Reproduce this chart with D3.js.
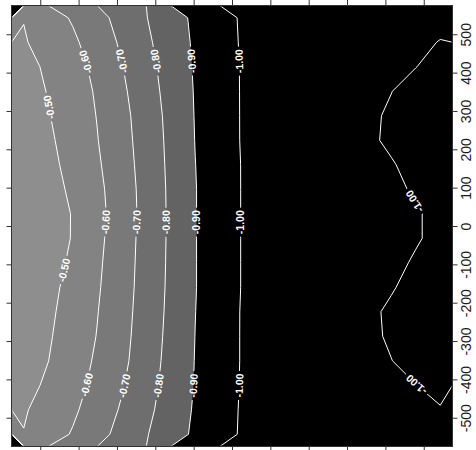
<!DOCTYPE html>
<html>
<head>
<meta charset="utf-8">
<script src="https://cdn.jsdelivr.net/npm/d3@7"></script>
<style>
  body { margin: 0; background: #ffffff; }
  svg { display: block; font-family: "Liberation Sans", Arial, sans-serif; }
</style>
</head>
<body>
<svg id="chart" width="476" height="450"></svg>
<script>
// Extent of the field in data units (horizontal u, vertical v)
const uDomain = [-575, 575];
const vDomain = [-575, 575];

// Tick positions
const uTicks = [-500, -400, -300, -200, -100, 0, 100, 200, 300, 400, 500];
const vTicks = [-500, -400, -300, -200, -100, 0, 100, 200, 300, 400, 500];

// Contour levels and the fill used for values at or above each level
const levels = [-1.0, -0.9, -0.8, -0.7, -0.6, -0.5];
const levelFill = ["#000000", "#636363", "#6e6e6e", "#797979", "#838383", "#8e8e8e"];

// Gridded field, 18 x 18 cell values, rows from top (v = +543) to bottom (v = -543)
const field = [
  [-0.503,-0.561,-0.609,-0.670,-0.732,-0.797,-0.860,-0.918,-0.966,-1.014,-1.040,-1.040,-1.040,-1.040,-1.040,-1.040,-1.040,-1.023],
  [-0.492,-0.538,-0.584,-0.645,-0.714,-0.783,-0.850,-0.913,-0.963,-1.012,-1.040,-1.040,-1.040,-1.040,-1.040,-1.036,-1.017,-0.997],
  [-0.467,-0.517,-0.566,-0.623,-0.696,-0.769,-0.841,-0.909,-0.960,-1.010,-1.040,-1.040,-1.040,-1.040,-1.040,-1.021,-1.001,-0.982],
  [-0.453,-0.505,-0.556,-0.610,-0.683,-0.758,-0.834,-0.906,-0.958,-1.010,-1.040,-1.040,-1.040,-1.040,-1.020,-1.001,-0.980,-0.961],
  [-0.441,-0.495,-0.549,-0.603,-0.672,-0.748,-0.827,-0.904,-0.957,-1.010,-1.040,-1.040,-1.040,-1.031,-1.012,-0.992,-0.972,-0.953],
  [-0.428,-0.484,-0.541,-0.597,-0.666,-0.743,-0.823,-0.902,-0.956,-1.010,-1.040,-1.040,-1.040,-1.030,-1.010,-0.991,-0.971,-0.952],
  [-0.416,-0.473,-0.531,-0.588,-0.659,-0.738,-0.820,-0.899,-0.954,-1.008,-1.040,-1.040,-1.040,-1.040,-1.024,-1.004,-0.984,-0.965],
  [-0.400,-0.459,-0.519,-0.578,-0.651,-0.734,-0.817,-0.897,-0.953,-1.008,-1.040,-1.040,-1.040,-1.040,-1.033,-1.013,-0.993,-0.974],
  [-0.375,-0.440,-0.506,-0.572,-0.648,-0.732,-0.816,-0.897,-0.953,-1.008,-1.040,-1.040,-1.040,-1.040,-1.040,-1.025,-1.005,-0.986],
  [-0.366,-0.436,-0.507,-0.577,-0.653,-0.734,-0.816,-0.897,-0.953,-1.008,-1.040,-1.040,-1.040,-1.040,-1.040,-1.025,-1.005,-0.986],
  [-0.390,-0.454,-0.519,-0.584,-0.657,-0.736,-0.817,-0.897,-0.953,-1.008,-1.040,-1.040,-1.040,-1.040,-1.033,-1.014,-0.994,-0.974],
  [-0.413,-0.472,-0.531,-0.590,-0.661,-0.738,-0.819,-0.897,-0.953,-1.008,-1.040,-1.040,-1.040,-1.040,-1.023,-1.004,-0.984,-0.965],
  [-0.425,-0.482,-0.539,-0.597,-0.666,-0.742,-0.822,-0.899,-0.955,-1.010,-1.040,-1.040,-1.040,-1.031,-1.011,-0.992,-0.972,-0.952],
  [-0.434,-0.490,-0.547,-0.603,-0.671,-0.747,-0.826,-0.901,-0.956,-1.010,-1.040,-1.040,-1.040,-1.032,-1.013,-0.993,-0.974,-0.954],
  [-0.445,-0.499,-0.556,-0.613,-0.678,-0.753,-0.831,-0.903,-0.956,-1.010,-1.040,-1.040,-1.040,-1.040,-1.020,-1.001,-0.980,-0.961],
  [-0.466,-0.517,-0.568,-0.625,-0.692,-0.764,-0.836,-0.905,-0.958,-1.011,-1.040,-1.040,-1.040,-1.040,-1.040,-1.021,-1.001,-0.982],
  [-0.491,-0.538,-0.585,-0.644,-0.710,-0.777,-0.845,-0.910,-0.961,-1.013,-1.040,-1.040,-1.040,-1.040,-1.040,-1.038,-1.019,-1.004],
  [-0.503,-0.559,-0.607,-0.668,-0.730,-0.794,-0.858,-0.916,-0.965,-1.014,-1.040,-1.040,-1.040,-1.040,-1.040,-1.040,-1.040,-1.023]
];

// Where each contour label sits (level, approximate u, v)
const labelLevels = [-0.5, -0.5, -0.6, -0.6, -0.6, -0.7, -0.7, -0.7, -0.8, -0.8, -0.8, -0.9, -0.9, -0.9, -1.0, -1.0, -1.0, -1.0, -1.0];
const labelU =      [-477, -438, -375, -322, -370, -287, -245, -282, -198, -170, -194, -107, -93, -104, 23, 25, 25, 477, 482];
const labelV =      [ 310, -115,  430,   10, -416,  430,   10, -416,  430,   10, -416,  430,  10, -416, 430, 10, -416, 65, -412];

// ---------------------------------------------------------------------------
const svg = d3.select("#chart");
const plot = { left: 11.5, right: 452.5, top: 5.5, bottom: 446.5 };

const sx = d3.scaleLinear().domain(uDomain).range([plot.left, plot.right]);
const sy = d3.scaleLinear().domain(vDomain).range([plot.bottom, plot.top]);

const nRows = field.length, nCols = field[0].length;
const du = (uDomain[1] - uDomain[0]) / nCols;
const dv = (vDomain[1] - vDomain[0]) / nRows;
const gridToPx = (gx, gy) => [sx(uDomain[0] + gx * du), sy(vDomain[1] - gy * dv)];

const path = d3.geoPath(d3.geoTransform({
  point(x, y) { const p = gridToPx(x, y); this.stream.point(p[0], p[1]); }
}));

const contours = d3.contours().size([nCols, nRows]).thresholds(levels)(field.flat());

const defs = svg.append("defs");
defs.append("clipPath").attr("id", "plotClip")
  .append("rect")
  .attr("x", plot.left).attr("y", plot.top)
  .attr("width", plot.right - plot.left).attr("height", plot.bottom - plot.top);
defs.append("clipPath").attr("id", "lineClip")
  .append("rect")
  .attr("x", plot.left + 1).attr("y", plot.top + 1)
  .attr("width", plot.right - plot.left - 2).attr("height", plot.bottom - plot.top - 2);

// Filled bands: black base, then each level region painted lighter on top
const fills = svg.append("g").attr("clip-path", "url(#plotClip)");
fills.append("rect")
  .attr("x", plot.left).attr("y", plot.top)
  .attr("width", plot.right - plot.left).attr("height", plot.bottom - plot.top)
  .attr("fill", levelFill[0]);
fills.selectAll("path.band")
  .data(contours.slice(1))
  .join("path")
  .attr("class", "band")
  .attr("d", path)
  .attr("fill", (d, i) => levelFill[i + 1])
  .attr("stroke", "none");

// Label placement along the drawn contour lines
function onBorder(p) {
  return p[0] === 0 || p[0] === nCols || p[1] === 0 || p[1] === nRows;
}
function ringsPx(contour) {
  const out = [];
  contour.coordinates.forEach(poly => poly.forEach(ring => {
    out.push(ring.map(p => ({ px: gridToPx(p[0], p[1]), edge: onBorder(p) })));
  }));
  return out;
}
function pointAt(ring, cum, s) {
  const total = cum[cum.length - 1];
  s = ((s % total) + total) % total;
  let i = d3.bisectRight(cum, s) - 1;
  i = Math.max(0, Math.min(i, ring.length - 2));
  const a = ring[i].px, b = ring[i + 1].px;
  const t = (s - cum[i]) / ((cum[i + 1] - cum[i]) || 1);
  return [a[0] + (b[0] - a[0]) * t, a[1] + (b[1] - a[1]) * t];
}

const labels = labelLevels.map((lv, k) => {
  const c = contours[levels.indexOf(lv)];
  const target = [sx(labelU[k]), sy(labelV[k])];
  let best = null;
  ringsPx(c).forEach(ring => {
    const cum = [0];
    for (let i = 1; i < ring.length; i++) {
      const a = ring[i - 1].px, b = ring[i].px;
      cum.push(cum[i - 1] + Math.hypot(b[0] - a[0], b[1] - a[1]));
    }
    for (let i = 1; i < ring.length; i++) {
      if (ring[i - 1].edge && ring[i].edge) continue;
      const a = ring[i - 1].px, b = ring[i].px;
      const L2 = (b[0] - a[0]) ** 2 + (b[1] - a[1]) ** 2 || 1;
      let t = ((target[0] - a[0]) * (b[0] - a[0]) + (target[1] - a[1]) * (b[1] - a[1])) / L2;
      t = Math.max(0, Math.min(1, t));
      const p = [a[0] + (b[0] - a[0]) * t, a[1] + (b[1] - a[1]) * t];
      const dist = Math.hypot(p[0] - target[0], p[1] - target[1]);
      if (!best || dist < best.dist) {
        best = { dist, p, ring, cum, s: cum[i - 1] + t * Math.sqrt(L2) };
      }
    }
  });
  const p0 = pointAt(best.ring, best.cum, best.s - 10);
  const p1 = pointAt(best.ring, best.cum, best.s + 10);
  let dx = p1[0] - p0[0], dy = p1[1] - p0[1];
  if (dy > 0) { dx = -dx; dy = -dy; }
  const angle = Math.atan2(dy, dx) * 180 / Math.PI;
  return { text: lv.toFixed(2), x: best.p[0], y: best.p[1], angle };
});

// Mask that opens gaps in the lines under the labels
const mask = defs.append("mask").attr("id", "labelGaps").attr("maskUnits", "userSpaceOnUse")
  .attr("x", 0).attr("y", 0).attr("width", 476).attr("height", 450);
mask.append("rect").attr("x", 0).attr("y", 0).attr("width", 476).attr("height", 450).attr("fill", "#fff");
mask.selectAll("rect.gap")
  .data(labels)
  .join("rect")
  .attr("class", "gap")
  .attr("x", -14.5).attr("y", -5).attr("width", 29).attr("height", 10)
  .attr("fill", "#000")
  .attr("transform", d => `translate(${d.x},${d.y}) rotate(${d.angle})`);

// Contour lines
svg.append("g")
  .attr("clip-path", "url(#lineClip)")
  .append("g")
  .attr("mask", "url(#labelGaps)")
  .selectAll("path.line")
  .data(contours)
  .join("path")
  .attr("class", "line")
  .attr("d", path)
  .attr("fill", "none")
  .attr("stroke", "#ffffff")
  .attr("stroke-width", 1);

// Contour labels
svg.append("g")
  .selectAll("text.clab")
  .data(labels)
  .join("text")
  .attr("class", "clab")
  .attr("transform", d => `translate(${d.x},${d.y}) rotate(${d.angle})`)
  .attr("text-anchor", "middle")
  .attr("dy", "0.36em")
  .attr("fill", "#ffffff")
  .attr("font-size", 10.5)
  .attr("font-weight", "bold")
  .text(d => d.text);

// Frame
svg.append("rect")
  .attr("x", plot.left).attr("y", plot.top)
  .attr("width", plot.right - plot.left).attr("height", plot.bottom - plot.top)
  .attr("fill", "none").attr("stroke", "#333333").attr("stroke-width", 1);

// Axes
const axisColor = "#333333";
function styleAxis(g) {
  g.select(".domain").remove();
  g.selectAll(".tick line").attr("stroke", axisColor);
}
svg.append("g").attr("transform", `translate(0,${plot.top})`)
  .call(d3.axisTop(sx).tickValues(uTicks).tickSize(6).tickFormat(""))
  .call(styleAxis);
svg.append("g").attr("transform", `translate(0,${plot.bottom})`)
  .call(d3.axisBottom(sx).tickValues(uTicks).tickSize(6).tickFormat(""))
  .call(styleAxis);
svg.append("g").attr("transform", `translate(${plot.left},0)`)
  .call(d3.axisLeft(sy).tickValues(vTicks).tickSize(5).tickFormat(""))
  .call(styleAxis);
const rightAxis = svg.append("g").attr("transform", `translate(${plot.right},0)`)
  .call(d3.axisRight(sy).tickValues(vTicks).tickSize(5).tickFormat(d => String(d)))
  .call(styleAxis);
rightAxis.selectAll(".tick text")
  .attr("transform", "rotate(-90)")
  .attr("x", 0).attr("y", 18.5).attr("dy", 0)
  .attr("text-anchor", "middle")
  .attr("fill", "#1a1a1a")
  .attr("font-size", 14)
  .attr("font-family", "'Liberation Sans', Arial, sans-serif");
</script>
</body>
</html>
